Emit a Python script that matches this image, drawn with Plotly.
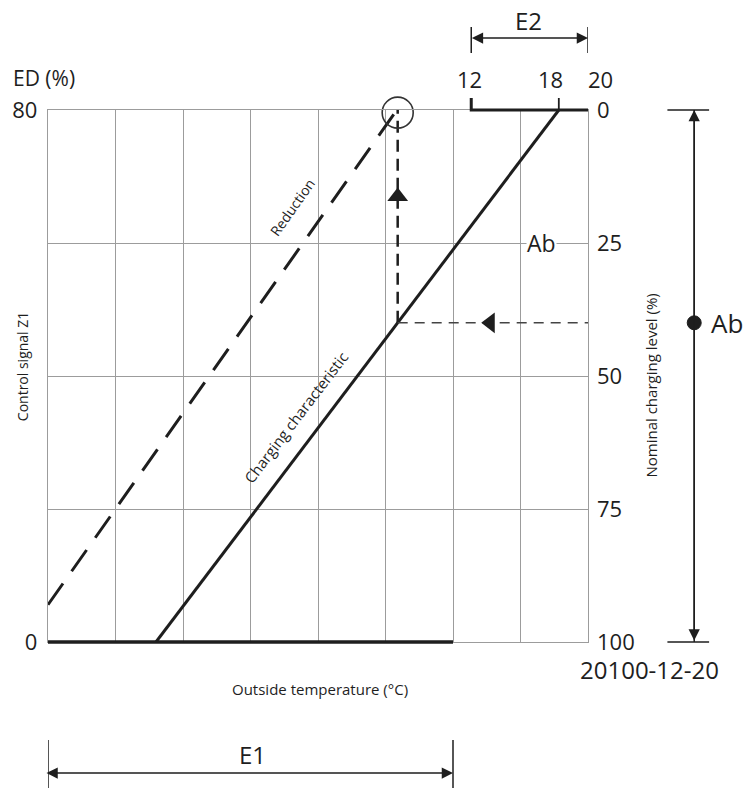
import numpy as np
import plotly.graph_objects as go

# ---------------- data ----------------
temp_range = [-17.0, 20.0]                 # outside temperature span of the chart (°C)
ed_range = [0, 80]                         # ED (%) left axis
charge_ticks = [0, 25, 50, 75, 100]        # nominal charging level (%) right axis
ed_ticks = [0, 80]
top_ticks = [12, 18, 20]                   # top temperature marks

charging_temp = [-9.6, 18.0]               # charging characteristic (solid)
charging_ed = [0, 80]
reduction_temp = [-17.0, 6.9]              # reduction (dashed)
reduction_ed = [5.6, 80]

ab_level = 40                              # Ab: nominal charging level (%)
ab_label_level = 25
e1_range = [-17.0, 10.75]
e2_range = [12, 20]

# ---------------- layout helpers ----------------
W, H = 745, 793
ML, MR, MT, MB = 44, 157, 110, 151
PW = W - ML - MR
PH = H - MT - MB
px_per_deg = PW / (temp_range[1] - temp_range[0])

def fx(px):  # page pixel x -> paper x
    return (px - ML) / PW

def fy(py):  # page pixel y -> paper y
    return (H - MB - py) / PH

ab_ed = ed_range[1] * (1 - ab_level / 100)
x_vert = float(np.interp(ab_ed, charging_ed, charging_temp))
grid_x = np.linspace(temp_range[0], temp_range[1], 9)

FONT = "Open Sans, Noto Sans, DejaVu Sans, sans-serif"
INK = "#1e1e1e"
GRID = "#9c9c9c"

fig = go.Figure()

# reduction dashed
fig.add_trace(go.Scatter(x=reduction_temp, y=reduction_ed, mode="lines",
                         line=dict(color=INK, width=3, dash="26px,15px")))
# charging characteristic
fig.add_trace(go.Scatter(x=charging_temp, y=charging_ed, mode="lines",
                         line=dict(color=INK, width=3)))
# vertical dashed (Ab -> ED)
fig.add_trace(go.Scatter(x=[x_vert, x_vert], y=[ab_ed, ed_range[1]], mode="lines",
                         line=dict(color=INK, width=2.5, dash="12px,7px")))
# horizontal dashed at Ab on right axis
fig.add_trace(go.Scatter(x=[x_vert, temp_range[1]], y=[ab_level, ab_level], mode="lines",
                         yaxis="y2", line=dict(color="#444", width=1.6, dash="10px,7px")))
# arrow markers
fig.add_trace(go.Scatter(x=[x_vert], y=[67], mode="markers",
                         marker=dict(symbol="triangle-up", size=18, color=INK)))
fig.add_trace(go.Scatter(x=[13.3], y=[ab_level], mode="markers", yaxis="y2",
                         marker=dict(symbol="triangle-left", size=18, color=INK)))
# circle at top
fig.add_trace(go.Scatter(x=[x_vert], y=[ed_range[1] - 0.4], mode="markers", cliponaxis=False,
                         marker=dict(symbol="circle-open", size=31, color="#333",
                                     line=dict(width=1.6, color="#333"))))

shapes = []
# bottom thick line (E1 span at ED 0)
shapes.append(dict(type="line", xref="x", yref="paper", x0=e1_range[0], x1=e1_range[1],
                   y0=0, y1=0, line=dict(color=INK, width=3.5)))
# top thick line (E2 span at ED 80) with tick at 12
tick_h = 12 / PH
shapes.append(dict(type="path", xref="x", yref="paper",
                   path=f"M {e2_range[0]},{1 + tick_h} L {e2_range[0]},1 L {e2_range[1]},1",
                   line=dict(color=INK, width=3)))
shapes.append(dict(type="line", xref="x", yref="paper", x0=top_ticks[1], x1=top_ticks[1],
                   y0=1, y1=1 + tick_h, line=dict(color=INK, width=1.8)))
# E1 bracket
for xv in e1_range:
    shapes.append(dict(type="line", xref="x", yref="paper", x0=xv, x1=xv,
                       y0=fy(740), y1=fy(788), line=dict(color=INK, width=1.5)))
# E2 bracket
for xv in e2_range:
    shapes.append(dict(type="line", xref="x", yref="paper", x0=xv, x1=xv,
                       y0=fy(27), y1=fy(53), line=dict(color=INK, width=1.5)))
# right vertical double arrow
xr = fx(695)
shapes.append(dict(type="line", xref="paper", yref="paper", x0=xr, x1=xr, y0=0, y1=1,
                   line=dict(color=INK, width=1.5)))
for yv in [0, 1]:
    shapes.append(dict(type="line", xref="paper", yref="paper",
                       x0=fx(668), x1=fx(710), y0=yv, y1=yv,
                       line=dict(color=INK, width=1.5)))
# Ab dot
shapes.append(dict(type="circle", xref="paper", yref="y2", xsizemode="pixel", ysizemode="pixel",
                   xanchor=xr, yanchor=ab_level, x0=-7, x1=7, y0=-7, y1=7,
                   fillcolor=INK, line=dict(color=INK, width=1)))

ann = []
def txt(text, x, y, size, xref="paper", yref="paper", **kw):
    d = dict(text=text, x=x, y=y, xref=xref, yref=yref, showarrow=False,
             xanchor="center", yanchor="middle",
             font=dict(family=FONT, size=size, color=INK))
    d.update(kw)
    ann.append(d)

# top temperature labels
for v, sh in zip(top_ticks, [-2, -8, 12]):
    txt(str(v), v, fy(79), 22, xref="x", xshift=sh)
txt("ED (%)", fx(40), fy(78), 21)
txt("20100-12-20", fx(650), fy(669), 24)
txt("Outside temperature (°C)", fx(318), fy(689), 15)
txt("Control signal Z1", fx(18), fy(366), 14, textangle=-90)
txt("Nominal charging level (%)", fx(651), fy(386), 15, textangle=-90)
txt("E1", fx(250), fy(754), 24)
txt("E2", fx(528), fy(21), 24)
txt("Ab", xr, ab_level, 26, yref="y2", xanchor="left", xshift=15)
txt("Ab", fx(541), ab_label_level, 23, yref="y2", bgcolor="white", borderpad=0)
txt("Reduction", -0.3, 65.4, 14, xref="x", yref="y", textangle=-54.7)
txt("Charging characteristic", 0.0, 33.8, 15, xref="x", yref="y", textangle=-52.7)

arrow = dict(showarrow=True, arrowhead=2, startarrowhead=2, arrowsize=1.5, startarrowsize=1.5,
             arrowwidth=1.5, arrowcolor=INK, arrowside="end+start", text="", standoff=0, startstandoff=0)
ann.append(dict(x=e1_range[1], y=fy(773), xref="x", yref="paper",
                ax=-(e1_range[1] - e1_range[0]) * px_per_deg, ay=0, **arrow))
ann.append(dict(x=e2_range[1], y=fy(38), xref="x", yref="paper",
                ax=-(e2_range[1] - e2_range[0]) * px_per_deg, ay=0, **arrow))
ann.append(dict(x=xr, y=1, xref="paper", yref="paper", ax=0, ay=PH, **arrow))

fig.update_layout(
    width=W, height=H, margin=dict(l=ML, r=MR, t=MT, b=MB),
    paper_bgcolor="white", plot_bgcolor="white", showlegend=False,
    font=dict(family=FONT, color=INK),
    xaxis=dict(range=temp_range, tickvals=grid_x, showticklabels=False, ticks="",
               showgrid=True, gridcolor=GRID, gridwidth=1.3, zeroline=False,
               showline=True, mirror=True, linecolor=GRID, linewidth=1.3, fixedrange=True),
    yaxis=dict(range=ed_range, tickvals=[0, 20, 40, 60, 80],
               ticktext=[str(v) if v in ed_ticks else "" for v in [0, 20, 40, 60, 80]],
               ticks="", ticklabelstandoff=5, tickfont=dict(size=22, family=FONT, color=INK),
               showgrid=True, gridcolor=GRID, gridwidth=1.3, zeroline=False,
               showline=True, mirror=True, linecolor=GRID, linewidth=1.3),
    yaxis2=dict(range=[100, 0], overlaying="y", side="right", tickvals=charge_ticks,
                ticks="", ticklabelstandoff=8, tickfont=dict(size=22, family=FONT, color=INK),
                showgrid=False, zeroline=False, showline=False),
    shapes=shapes, annotations=ann,
)

fig.write_html("out.html")
